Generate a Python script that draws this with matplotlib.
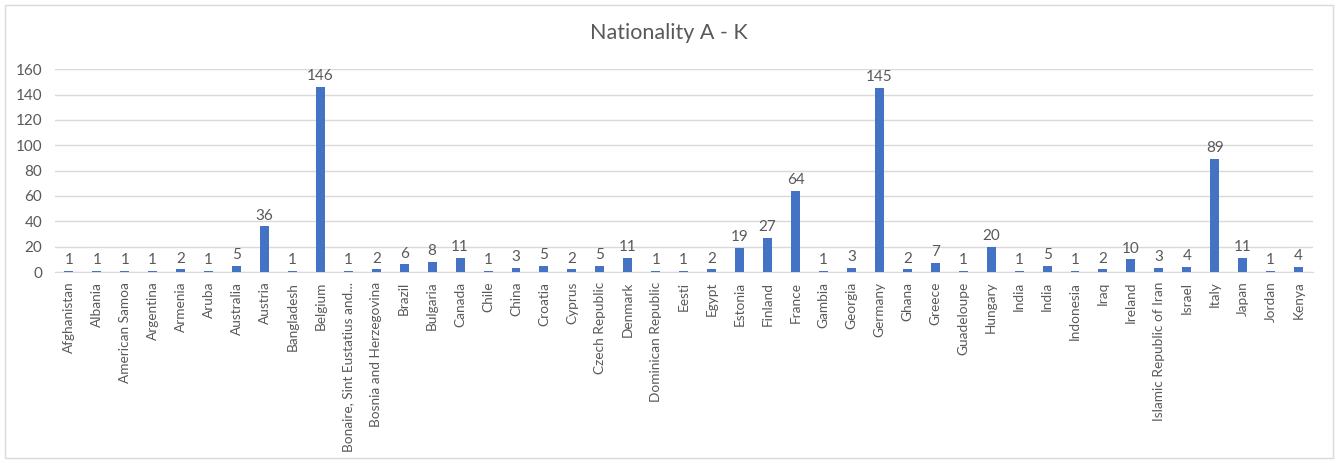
import matplotlib.pyplot as plt

countries = [
    "Afghanistan", "Albania", "American Samoa", "Argentina", "Armenia", "Aruba",
    "Australia", "Austria", "Bangladesh", "Belgium", "Bonaire, Sint Eustatius and...",
    "Bosnia and Herzegovina", "Brazil", "Bulgaria", "Canada", "Chile", "China",
    "Croatia", "Cyprus", "Czech Republic", "Denmark", "Dominican Republic", "Eesti",
    "Egypt", "Estonia", "Finland", "France", "Gambia", "Georgia", "Germany", "Ghana",
    "Greece", "Guadeloupe", "Hungary", "India", "India", "Indonesia", "Iraq",
    "Ireland", "Islamic Republic of Iran", "Israel", "Italy", "Japan", "Jordan", "Kenya",
]
counts = [
    1, 1, 1, 1, 2, 1,
    5, 36, 1, 146, 1,
    2, 6, 8, 11, 1, 3,
    5, 2, 5, 11, 1, 1,
    2, 19, 27, 64, 1, 3, 145, 2,
    7, 1, 20, 1, 5, 1, 2,
    10, 3, 4, 89, 11, 1, 4,
]
yticks = [0, 20, 40, 60, 80, 100, 120, 140, 160]

TEXT = "#595959"
BAR = "#4472C4"
GRID = "#D9D9D9"

plt.rcParams["font.family"] = ["Lato", "DejaVu Sans"]

fig = plt.figure(figsize=(13.38, 4.63), dpi=100)
# thin light frame round the whole chart
fig.patches.append(plt.Rectangle((0.004, 0.01), 0.992, 0.98, transform=fig.transFigure,
                                 fill=False, edgecolor=GRID, linewidth=1))
ax = fig.add_axes([0.041, 0.4125, 0.940, 0.438])

x = range(len(countries))
ax.bar(x, counts, width=0.32, color=BAR, zorder=3)
for xi, v in zip(x, counts):
    ax.text(xi, v + 3, str(v), ha="center", va="bottom", fontsize=11, color=TEXT)

ax.set_xlim(-0.5, len(countries) - 0.5)
ax.set_ylim(0, 160)
ax.set_yticks(yticks)
ax.set_xticks(list(x))
ax.set_xticklabels(countries, rotation=90, fontsize=9.8, color=TEXT)
ax.tick_params(axis="y", labelsize=11, labelcolor=TEXT, length=0, pad=9)
ax.tick_params(axis="x", length=0, pad=7)
ax.grid(axis="y", color=GRID, linewidth=1, zorder=0)
for side in ["top", "right", "left"]:
    ax.spines[side].set_visible(False)
ax.spines["bottom"].set_color(GRID)

fig.text(0.5, 0.928, "Nationality A - K", ha="center", va="center", fontsize=15.5, color=TEXT)

fig.savefig("out.png", dpi=100)
